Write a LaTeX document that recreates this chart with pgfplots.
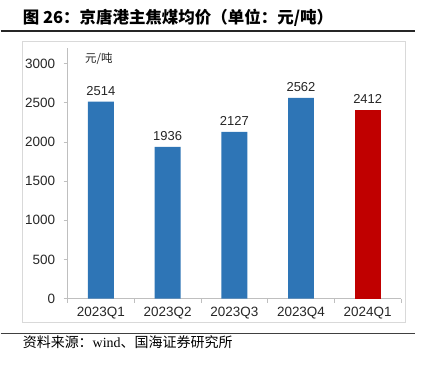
\documentclass[border=0pt]{standalone}
\usepackage{fontspec}
\setmainfont{Liberation Sans}
\newfontfamily\cjk{Noto Sans CJK SC}
\newfontfamily\serif{Liberation Serif}
\usepackage{pgfplots}
\pgfplotsset{compat=1.18}
\definecolor{barblue}{HTML}{2E75B6}
\definecolor{barred}{HTML}{C00000}
\definecolor{axgray}{HTML}{BFBFBF}
\definecolor{txt}{HTML}{262626}
\begin{document}
\begin{tikzpicture}
\begin{axis}[
  at={(67pt,66pt)}, anchor=origin,
  scale only axis, width=334pt, height=251pt,
  xmin=0, xmax=5, ymin=0, ymax=3200,
  axis lines=left,
  axis line style={-, draw=axgray, line width=0.8pt},
  xtick={0.5,1.5,2.5,3.5,4.5},
  xticklabels={2023Q1,2023Q2,2023Q3,2023Q4,2024Q1},
  major x tick style={draw=none},
  minor xtick={0,1,2,3,4,5},
  minor x tick style={draw=axgray, line width=0.8pt},
  minor tick length=4pt,
  ytick={0,500,1000,1500,2000,2500,3000},
  major tick length=4pt,
  y tick style={draw=axgray, line width=0.8pt},
  tick align=outside,
  /pgf/number format/1000 sep={},
  /pgf/number format/assume math mode=true,
  tick label style={font=\fontsize{13.5}{16}\selectfont, text=txt},
  yticklabel style={xshift=-5pt},
  xticklabel style={yshift=-1pt},
  ybar, bar width=26pt, bar shift=0pt,
  nodes near coords,
  every node near coord/.append style={font=\fontsize{13}{15}\selectfont, text=txt, yshift=3pt},
  clip=false,
]
\addplot[fill=barblue, draw=none] coordinates {(0.5,2514) (1.5,1936) (2.5,2127) (3.5,2562)};
\addplot[fill=barred, draw=none] coordinates {(4.5,2412)};
\node[anchor=center, text=txt] at (axis cs:0.47,3060) {\cjk\fontsize{11.5}{13}\selectfont 元/吨};
\end{axis}
% frame
\draw[draw=gray!30, line width=0.8pt] (21.5pt,324pt) rectangle (405pt,42pt);
% title
\node[anchor=west, inner sep=0pt, text=black] at (22pt,347pt) {\cjk\bfseries\fontsize{16.5}{19}\selectfont 图 26：京唐港主焦煤均价（单位：元/吨）};
\draw[line width=1.3pt, black!85] (0pt,334pt) -- (415pt,334pt);
% source
\draw[line width=0.9pt, black!75] (0pt,31pt) -- (415pt,31pt);
\node[anchor=west, inner sep=0pt, text=black] at (22pt,22pt) {\fontsize{14}{16}\selectfont\cjk 资料来源：{\serif wind}、国海证券研究所};
\path (0pt,0pt) rectangle (428pt,365pt);
\end{tikzpicture}
\end{document}
